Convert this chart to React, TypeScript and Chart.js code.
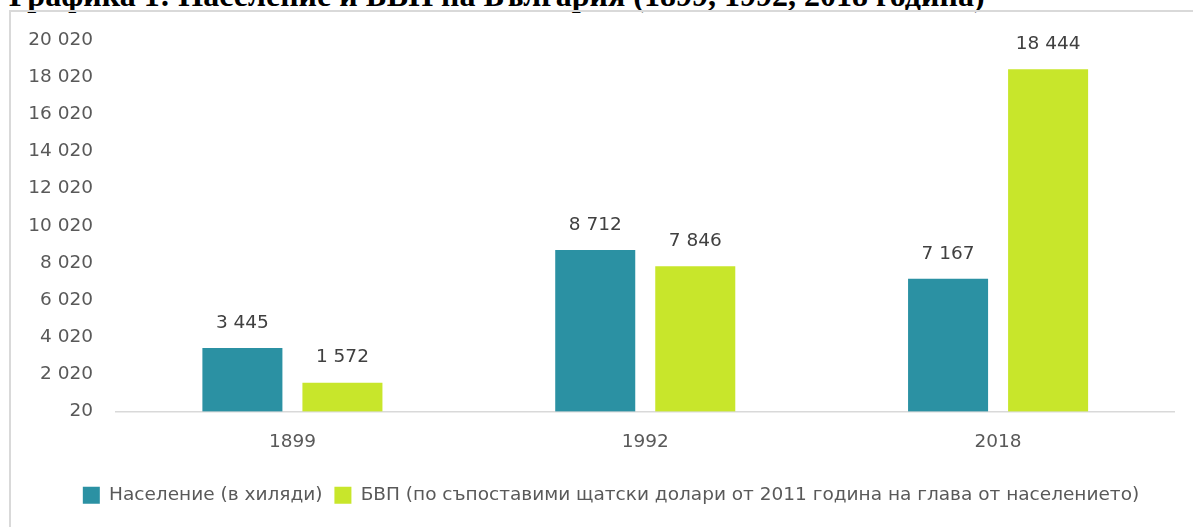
import React, { useEffect, useRef } from "react";
import { Chart, registerables } from "chart.js";

Chart.register(...registerables);

const TITLE = "Графика 1: Население и БВП на България (1899, 1992, 2018 година)";
const categories = ["1899", "1992", "2018"];
const populationLabel = "Население (в хиляди)";
const populationValues = [3445, 8712, 7167];
const gdpLabel = "БВП (по съпоставими щатски долари от 2011 година на глава от населението)";
const gdpValues = [1572, 7846, 18444];
const yMin = 20;
const yMax = 20020;
const yStep = 2000;

const FONT = "'DejaVu Sans', 'Open Sans', sans-serif";
const FS = 18.5;
const fmt = (v: number) => String(Math.round(v)).replace(/\B(?=(\d{3})+(?!\d))/g, " ");

const dataLabels = {
  id: "dataLabels",
  afterDatasetsDraw(chart: any) {
    const ctx = chart.ctx;
    ctx.save();
    ctx.font = `${FS}px ${FONT}`;
    ctx.fillStyle = "#404040";
    ctx.textAlign = "center";
    ctx.textBaseline = "middle";
    chart.data.datasets.forEach((ds: any, i: number) => {
      const meta = chart.getDatasetMeta(i);
      meta.data.forEach((bar: any, j: number) => {
        ctx.fillText(fmt(ds.data[j]), bar.x, bar.y - 25);
      });
    });
    ctx.restore();
  },
};

const legendShift = {
  id: "legendShift",
  afterLayout(chart: any) {
    if (chart.legend) chart.legend.left = 47.5;
  },
};

export default function App() {
  const ref = useRef<HTMLCanvasElement>(null);
  useEffect(() => {
    const chart = new Chart(ref.current!, {
      type: "bar",
      data: {
        labels: categories,
        datasets: [
          { label: populationLabel, data: populationValues, backgroundColor: "#2B91A3" },
          { label: gdpLabel, data: gdpValues, backgroundColor: "#C8E62B" },
        ],
      },
      options: {
        responsive: false,
        animation: false,
        datasets: { bar: { categoryPercentage: 0.567, barPercentage: 0.8 } },
        layout: { padding: { top: 40, right: 18.5, left: 0, bottom: 12.5 } },
        scales: {
          y: {
            min: yMin,
            max: yMax,
            grid: { display: false, drawTicks: false },
            border: { display: false },
            ticks: {
              stepSize: yStep,
              padding: 23,
              color: "#595959",
              font: { family: FONT, size: FS },
              callback: (v: any) => fmt(Number(v)),
            },
            afterFit: (s: any) => { s.width = 116; },
          },
          x: {
            grid: { display: false, drawTicks: false },
            border: { display: true, color: "#D9D9D9", width: 1.5 },
            ticks: { padding: 20, color: "#595959", font: { family: FONT, size: FS } },
            afterFit: (s: any) => { s.height = 62.5; },
          },
        },
        plugins: {
          legend: {
            position: "bottom",
            labels: {
              boxWidth: 17,
              boxHeight: 17,
              padding: 12,
              color: "#595959",
              font: { family: FONT, size: FS },
            },
          },
          tooltip: { enabled: false },
        },
      },
      plugins: [dataLabels, legendShift],
    });
    return () => chart.destroy();
  }, []);

  return (
    <div style={{ position: "fixed", left: 0, top: 0, width: 1193, height: 527, overflow: "hidden", background: "#fff" }}>
      <div
        style={{
          position: "absolute",
          left: 9,
          top: -21,
          fontFamily: "'Liberation Serif', 'Times New Roman', serif",
          fontWeight: "bold",
          fontSize: 32,
          lineHeight: 1,
          whiteSpace: "nowrap",
          color: "#000",
        }}
      >
        {TITLE}
      </div>
      <div
        style={{
          position: "absolute",
          left: 9,
          top: 10,
          width: 1184,
          height: 517,
          borderTop: "2px solid #D9D9D9",
          borderLeft: "2px solid #D9D9D9",
          boxSizing: "border-box",
        }}
      />
      <canvas
        ref={ref}
        width={1193}
        height={527}
        style={{ position: "absolute", left: 0, top: 0, width: 1193, height: 527 }}
      />
    </div>
  );
}
